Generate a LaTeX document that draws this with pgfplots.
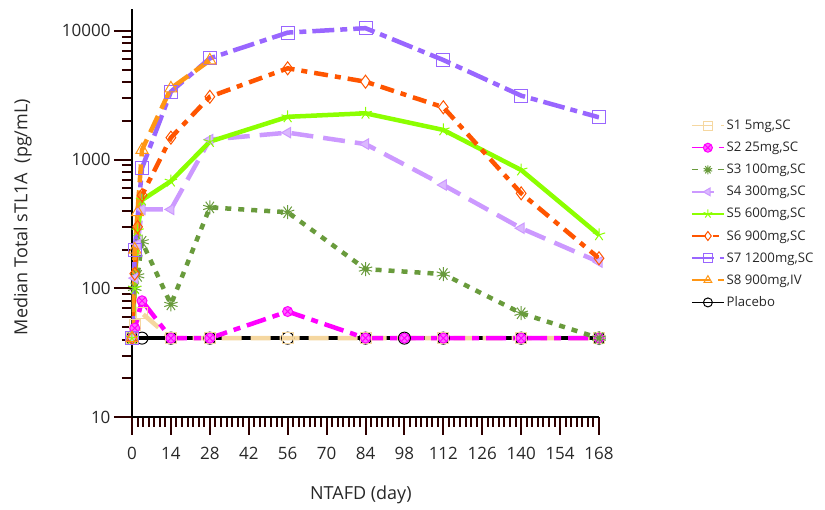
\documentclass[border=0pt]{standalone}
\usepackage{fontspec}
\setmainfont{Open Sans}
\usepackage{pgfplots}
\pgfplotsset{compat=1.18}
\usetikzlibrary{plotmarks}

\definecolor{cS1}{RGB}{245,215,160}
\definecolor{cS2}{RGB}{255,0,255}
\definecolor{cS3}{RGB}{105,155,60}
\definecolor{cS4}{RGB}{204,153,255}
\definecolor{cS5}{RGB}{140,255,0}
\definecolor{cS6}{RGB}{255,85,0}
\definecolor{cS7}{RGB}{153,102,255}
\definecolor{cS8}{RGB}{255,150,20}
\definecolor{textgray}{RGB}{40,40,40}

\begin{document}
\begin{tikzpicture}
\begin{axis}[
  at={(132pt,92pt)}, anchor=south west,
  scale only axis, width=467pt, height=408pt,
  xmin=0, xmax=168, ymode=log, ymin=10, ymax=14800,
  axis x line*=bottom, axis y line*=left,
  axis line style={line width=1.8pt},
  tick align=outside,
  major tick length=18pt, minor tick length=10pt,
  tick style={red!18!black, line width=2pt},
  xtick={0,14,28,42,56,70,84,98,112,126,140,154,168},
  xticklabels={0,14,28,42,56,70,84,98,112,126,140,154,168},
  minor x tick num=6,
  ytick={10,100,1000,10000},
  yticklabels={10,100,1000,10000},
  minor ytick={20,30,40,50,60,70,80,90,200,300,400,500,600,700,800,900,2000,3000,4000,5000,6000,7000,8000,9000},
  ticklabel style={font=\fontsize{17}{20}\selectfont, text=textgray},
  xticklabel style={yshift=-9pt},
  xlabel={NTAFD (day)},
  ylabel={Median Total sTL1A\ \ (pg/mL)},
  label style={font=\fontsize{18}{21}\selectfont, text=textgray},
  xlabel style={at={(axis description cs:0.49,-0.191)}, anchor=center},
  ylabel style={at={(axis description cs:-0.234,0.49)}, anchor=center},
  legend style={at={(axis description cs:1.197,0.733)}, anchor=north west,
    draw=none, fill=none, font=\fontsize{13.2}{15}\selectfont,
    row sep=7pt, inner sep=0pt, text=textgray},
  legend cell align=left,
  legend image code/.code={\draw[mark repeat=2,mark phase=2,#1,line width=1.4pt,mark size=4.5pt] plot coordinates {(0pt,0pt) (16pt,0pt) (32pt,0pt)};},
]
\addplot[black, line width=4pt, mark=o, mark size=6pt, mark options={solid,line width=1pt}, forget plot]
coordinates {(0,41) (3.6,41) (14,41) (28,41) (56,41) (84,41) (98,41) (112,41) (140,41) (168,41)};
\addplot[cS1, line width=4.5pt, dash pattern=on 20pt off 9pt, mark=square, mark size=5.5pt, mark options={solid,line width=1pt}]
coordinates {(0,41) (1,52) (3.6,64) (14,41) (28,41) (56,41) (84,41) (112,41) (140,41) (168,41)};
\addlegendentry{S1 5mg,SC}
\addplot[cS2, line width=4.5pt, dash pattern=on 20pt off 7pt on 7pt off 7pt, mark=otimes*, mark size=5pt, mark options={solid,line width=1pt,fill=cS2!60}]
coordinates {(0,41) (1,49) (3.6,80) (14,41) (28,41) (56,66) (84,41) (98,41) (112,41) (140,41) (168,41)};
\addlegendentry{S2 25mg,SC}
\addplot[cS3, line width=4.5pt, dash pattern=on 6pt off 7pt, mark=10-pointed star, mark size=7pt, mark options={solid,line width=1pt,fill=cS3}]
coordinates {(0,41) (1,100) (2,125) (3.6,230) (14,75) (28,425) (56,390) (84,141) (112,129) (140,64) (168,41)};
\addlegendentry{S3 100mg,SC}
\addplot[cS4, line width=4.5pt, dash pattern=on 22pt off 10pt, mark=triangle*, mark size=6pt, mark options={solid,line width=1pt,rotate=90,fill=cS4!70}]
coordinates {(0,41) (1,120) (2,220) (3.6,410) (14,410) (28,1430) (56,1620) (84,1320) (112,635) (140,293) (168,160)};
\addlegendentry{S4 300mg,SC}
\addplot[cS5, line width=4.5pt, mark=star, mark size=6.5pt, mark options={solid,line width=1pt}]
coordinates {(0,41) (1,100) (2,280) (3.6,485) (14,680) (28,1380) (56,2150) (84,2290) (112,1700) (140,830) (168,260)};
\addlegendentry{S5 600mg,SC}
\addplot[cS6, line width=4.5pt, dash pattern=on 14pt off 7pt on 6pt off 7pt, mark=diamond, mark size=6.5pt, mark options={solid,line width=1pt}]
coordinates {(0,41) (1,130) (2,300) (3.6,530) (14,1480) (28,3080) (56,5120) (84,4030) (112,2550) (140,547) (168,171)};
\addlegendentry{S6 900mg,SC}
\addplot[cS7, line width=4.5pt, dash pattern=on 22pt off 6pt on 7pt off 6pt, mark=square, mark size=6.5pt, mark options={solid,line width=1pt}]
coordinates {(0,41) (1,200) (3.6,860) (14,3370) (28,6120) (56,9700) (84,10500) (112,5940) (140,3140) (168,2130)};
\addlegendentry{S7 1200mg,SC}
\addplot[cS8, line width=4.5pt, dash pattern=on 18pt off 8pt, mark=triangle, mark size=7pt, mark options={solid,line width=1pt}]
coordinates {(0,41) (1,200) (2,390) (3.6,1190) (14,3580) (28,5900)};
\addlegendentry{S8 900mg,IV}
\addlegendimage{black, line width=4pt, mark=o, mark size=6pt, mark options={solid,line width=1pt}}
\addlegendentry{Placebo}
\end{axis}
\path[use as bounding box] (0,0) rectangle (825pt,509pt);
\end{tikzpicture}
\end{document}
